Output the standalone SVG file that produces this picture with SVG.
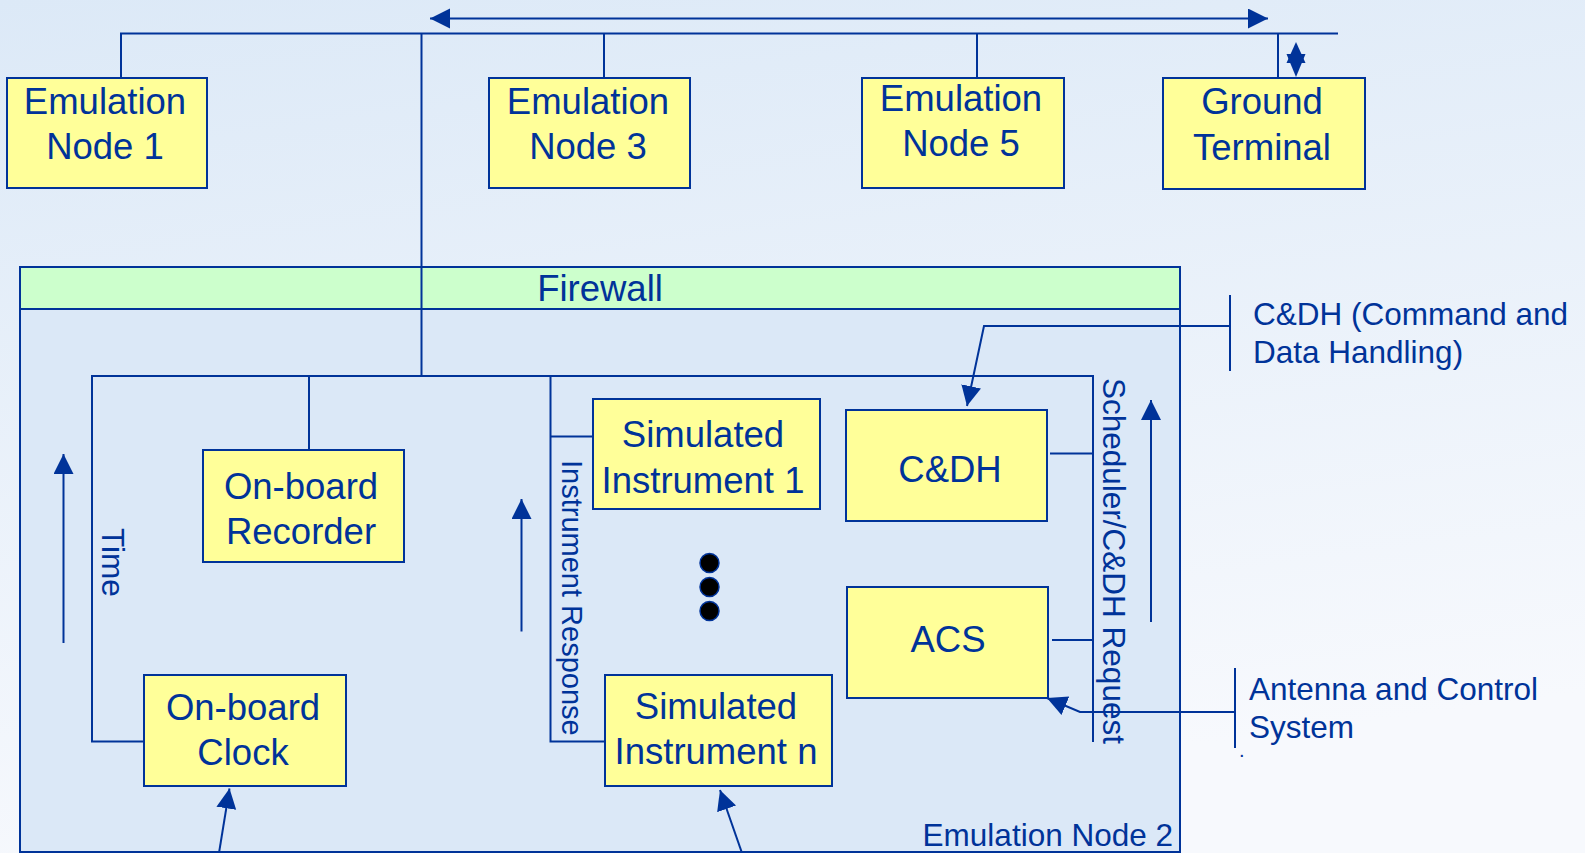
<svg xmlns="http://www.w3.org/2000/svg" width="1585" height="853" viewBox="0 0 1585 853">
<defs>
<linearGradient id="bg" x1="0" y1="0" x2="0.25" y2="1">
<stop offset="0" stop-color="#dce9f7"/>
<stop offset="1" stop-color="#f7f9fd"/>
</linearGradient>
<marker id="ah" markerUnits="userSpaceOnUse" markerWidth="22" markerHeight="22" refX="20" refY="10" orient="auto-start-reverse" viewBox="0 0 22 22">
<path d="M0,0 L20,10 L0,20 z" fill="#003399"/>
</marker>
<style>
.box{fill:#ffff99;stroke:#003399;stroke-width:2}
.ln{fill:none;stroke:#003399;stroke-width:2}
.arr{fill:none;stroke:#003399;stroke-width:2;marker-end:url(#ah)}
.t{font-family:"Liberation Sans",Arial,sans-serif;fill:#003399;font-size:36.5px;text-anchor:middle}
.s{font-family:"Liberation Sans",Arial,sans-serif;fill:#003399;font-size:31.5px}
</style>
</defs>
<rect x="0" y="0" width="1585" height="853" fill="url(#bg)"/>

<g id="emulation-node-2">
<rect x="20" y="267" width="1160" height="585" fill="#dbe8f7" stroke="#003399" stroke-width="2"/>
<text class="s" x="1173" y="846" text-anchor="end">Emulation Node 2</text>
</g>

<g id="firewall">
<rect x="20" y="267" width="1160" height="42" fill="#ccffcc" stroke="#003399" stroke-width="2"/>
<text class="t" x="600" y="301">Firewall</text>
</g>

<g id="connectors">
<line class="ln" x1="430" y1="18.5" x2="1268" y2="18.5" style="marker-start:url(#ah);marker-end:url(#ah)"/>
<path class="ln" d="M121,78 V33.5 H1338"/>
<line class="ln" x1="604" y1="33.5" x2="604" y2="78"/>
<line class="ln" x1="977" y1="33.5" x2="977" y2="78"/>
<line class="ln" x1="1278" y1="33.5" x2="1278" y2="78"/>
<polygon points="1296,42 1286.5,63 1305.5,63" fill="#003399"/>
<polygon points="1296,77 1286.5,54 1305.5,54" fill="#003399"/>
<line class="ln" x1="421.5" y1="33.5" x2="421.5" y2="376"/>
<path class="ln" d="M144,741.5 H92 V376 H1093 V742"/>
<line class="ln" x1="309" y1="376" x2="309" y2="450"/>
<path class="ln" d="M593,436.5 H550.5 V376 M550.5,436.5 V741.5 H605"/>
<line class="ln" x1="1050" y1="453.5" x2="1093" y2="453.5"/>
<line class="ln" x1="1052" y1="640" x2="1093" y2="640"/>
<line class="arr" x1="63.5" y1="643" x2="63.5" y2="454"/>
<line class="arr" x1="521.5" y1="631.5" x2="521.5" y2="499"/>
<line class="arr" x1="1151" y1="622" x2="1151" y2="400"/>
<line class="arr" x1="219" y1="853" x2="229.5" y2="788.5"/>
<line class="arr" x1="742" y1="853" x2="720" y2="790"/>
<polyline class="arr" points="1230,326 984,326 967,406"/>
<polyline class="arr" points="1235,712 1080,712 1047,698"/>
<line class="ln" x1="1230" y1="295" x2="1230" y2="371"/>
<line class="ln" x1="1235" y1="668" x2="1235" y2="748"/>
</g>

<g id="node-emulation-1">
<rect class="box" x="7" y="78" width="200" height="110"/>
<text class="t" x="105" y="114">Emulation</text>
<text class="t" x="105" y="159">Node 1</text>
</g>
<g id="node-emulation-3">
<rect class="box" x="489" y="78" width="201" height="110"/>
<text class="t" x="588" y="114">Emulation</text>
<text class="t" x="588" y="159">Node 3</text>
</g>
<g id="node-emulation-5">
<rect class="box" x="862" y="78" width="202" height="110"/>
<text class="t" x="961" y="111">Emulation</text>
<text class="t" x="961" y="156">Node 5</text>
</g>
<g id="node-ground-terminal">
<rect class="box" x="1163" y="78" width="202" height="111"/>
<text class="t" x="1262" y="114">Ground</text>
<text class="t" x="1262" y="160">Terminal</text>
</g>
<g id="node-recorder">
<rect class="box" x="203" y="450" width="201" height="112"/>
<text class="t" x="301" y="499">On-board</text>
<text class="t" x="301" y="544">Recorder</text>
</g>
<g id="node-clock">
<rect class="box" x="144" y="675" width="202" height="111"/>
<text class="t" x="243" y="720">On-board</text>
<text class="t" x="243" y="765">Clock</text>
</g>
<g id="node-sim-1">
<rect class="box" x="593" y="399" width="227" height="110"/>
<text class="t" x="703" y="447">Simulated</text>
<text class="t" x="703" y="493">Instrument 1</text>
</g>
<g id="node-sim-n">
<rect class="box" x="605" y="675" width="227" height="111"/>
<text class="t" x="716" y="719">Simulated</text>
<text class="t" x="716" y="764">Instrument n</text>
</g>
<g id="ellipsis">
<circle cx="709.5" cy="563" r="9.5" fill="#000" stroke="#003399" stroke-width="1.5"/>
<circle cx="709.5" cy="587" r="9.5" fill="#000" stroke="#003399" stroke-width="1.5"/>
<circle cx="709.5" cy="611" r="9.5" fill="#000" stroke="#003399" stroke-width="1.5"/>
</g>
<g id="node-cdh">
<rect class="box" x="846" y="410" width="201" height="111"/>
<text class="t" x="950" y="482">C&amp;DH</text>
</g>
<g id="node-acs">
<rect class="box" x="847" y="587" width="201" height="111"/>
<text class="t" x="948" y="652">ACS</text>
</g>

<g id="labels">
<text class="s" transform="translate(101.5,528) rotate(90)">Time</text>
<text class="s" style="font-size:29px" transform="translate(561.5,460) rotate(90)">Instrument Response</text>
<text class="s" transform="translate(1103,378) rotate(90)">Scheduler/C&amp;DH Request</text>
<text class="s" x="1253" y="325">C&amp;DH (Command and</text>
<text class="s" x="1253" y="363">Data Handling)</text>
<text class="s" x="1249" y="700">Antenna and Control</text>
<text class="s" x="1249" y="738">System</text>
<text class="s" style="font-size:20px" x="1239" y="757">.</text>
</g>
</svg>
